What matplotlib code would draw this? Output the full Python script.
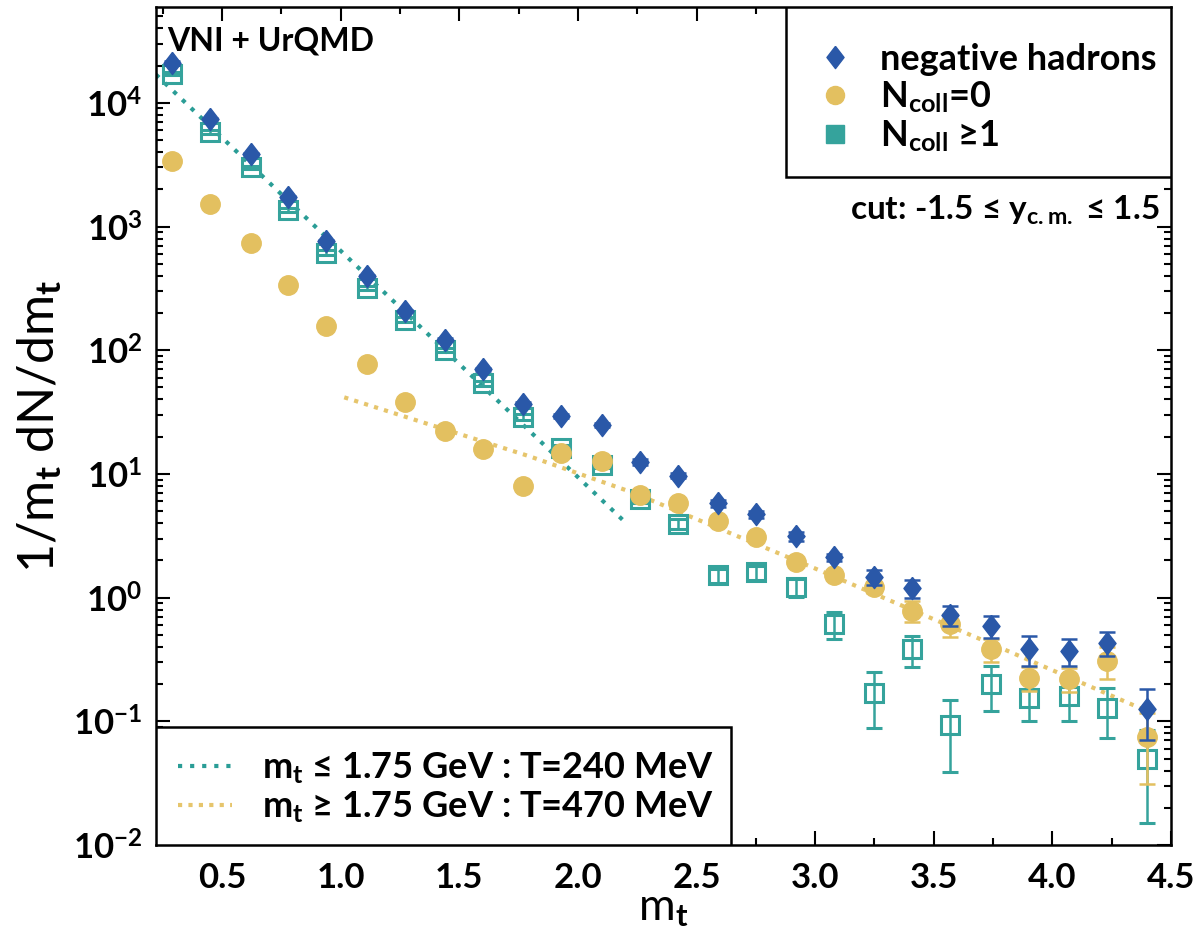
import numpy as np
import matplotlib
matplotlib.use('Agg')
import matplotlib.pyplot as plt
from matplotlib.patches import Rectangle
from matplotlib.lines import Line2D
from matplotlib.ticker import MultipleLocator, LogLocator, FixedLocator, FuncFormatter, NullFormatter

plt.rcParams['font.family'] = ['Lato', 'DejaVu Sans']
plt.rcParams['font.weight'] = 'bold'
plt.rcParams['mathtext.fontset'] = 'custom'
plt.rcParams['mathtext.rm'] = 'Lato:bold'
plt.rcParams['mathtext.bf'] = 'Lato:bold'
plt.rcParams['mathtext.it'] = 'Lato:bold'
plt.rcParams['mathtext.default'] = 'bf'

# m_t bins (GeV)
mt = [0.29, 0.45, 0.62, 0.78, 0.94, 1.11, 1.27, 1.44, 1.60, 1.77, 1.93, 2.10, 2.26,
      2.42, 2.59, 2.75, 2.92, 3.08, 3.25, 3.41, 3.57, 3.74, 3.90, 4.07, 4.23, 4.40]

# negative hadrons
neg_had = [2.1e4, 7.4e3, 3.85e3, 1.72e3, 765, 398, 207, 122, 70, 37, 29.5, 25, 12.5,
           9.7, 5.8, 4.7, 3.12, 2.12, 1.46, 1.19, 0.725, 0.593, 0.386, 0.372, 0.432, 0.126]
neg_had_err = [600, 200, 100, 40, 20, 10, 5, 3, 2, 1, 1, 1, 0.6,
               0.5, 0.4, 0.3, 0.25, 0.15, 0.2, 0.2, 0.13, 0.12, 0.105, 0.09, 0.095, 0.055]

# N_coll = 0
ncoll0 = [3.37e3, 1.52e3, 741, 334, 157, 77, 38, 22.2, 15.8, 7.96, 14.7, 12.7, 6.7,
          5.8, 4.15, 3.08, 1.93, 1.51, 1.21, 0.785, 0.612, 0.384, 0.225, 0.221, 0.309, 0.074]
ncoll0_err = [100, 50, 25, 10, 5, 3, 1.5, 1, 0.8, 0.5, 0.6, 0.5, 0.35,
              0.3, 0.25, 0.2, 0.15, 0.12, 0.12, 0.15, 0.13, 0.08, 0.05, 0.05, 0.09, 0.043]

# N_coll >= 1
ncoll1 = [1.72e4, 5.78e3, 3.0e3, 1.36e3, 615, 318, 177, 100, 54, 29, 16.1, 11.9, 6.3,
          3.95, 1.51, 1.6, 1.21, 0.612, 0.169, 0.384, 0.094, 0.202, 0.155, 0.161, 0.129, 0.05]
ncoll1_err = [500, 200, 100, 50, 25, 12, 7, 4, 2.5, 1.5, 1, 0.8, 0.5,
              0.35, 0.2, 0.2, 0.2, 0.15, 0.08, 0.11, 0.055, 0.08, 0.055, 0.06, 0.056, 0.035]

# exponential fits
fit_low_mt = [0.2215, 2.205]
fit_low_val = [1.69e4, 3.97]
fit_high_mt = [1.015, 1.795, 2.23, 3.0, 3.78, 4.445]
fit_high_val = [41.6, 13.9, 7.08, 1.72, 0.394, 0.111]

y_decades = [1e-2, 1e-1, 1e0, 1e1, 1e2, 1e3, 1e4]

blue = '#2a58a8'
gold = '#e3c060'
teal = '#35a39c'
teal_line = '#2a9d96'
gold_line = '#e6c56c'

diamond = [(0, 1), (0.77, 0), (0, -1), (-0.77, 0), (0, 1)]

fig = plt.figure(figsize=(12, 9.33), dpi=100)
ax = fig.add_axes([0.13, 0.0943, 0.8458, 0.8977])
ax.set_yscale('log')

ax.plot(fit_low_mt, fit_low_val, color=teal_line, lw=3, ls=(0, (1, 1.9)), zorder=2)
ax.plot(fit_high_mt, fit_high_val, color=gold_line, lw=3, ls=(0, (1, 1.5)), zorder=2)

ax.errorbar(mt, ncoll1, yerr=ncoll1_err, fmt='s', ms=13, mfc='none', mec=teal, mew=2.2,
            ecolor=teal, elinewidth=1.8, capsize=6, capthick=1.8, zorder=3)
ax.errorbar(mt, ncoll0, yerr=ncoll0_err, fmt='o', ms=14, mfc=gold, mec=gold,
            ecolor=gold, elinewidth=1.8, capsize=6, capthick=1.8, zorder=4)
ax.errorbar(mt, neg_had, yerr=neg_had_err, fmt='none', ecolor=blue, elinewidth=1.8,
            capsize=6, capthick=1.8, zorder=5)
ax.plot(mt, neg_had, ls='none', marker=diamond, ms=16, mfc=blue, mec=blue, zorder=5)

ax.set_xlim(0.2215, 4.5)
ax.set_ylim(1e-2, 5.9e4)

ax.xaxis.set_major_locator(MultipleLocator(0.5))
ax.xaxis.set_minor_locator(MultipleLocator(0.25))
ax.yaxis.set_major_locator(FixedLocator(y_decades))
ax.yaxis.set_minor_locator(LogLocator(base=10, subs=np.arange(2, 10), numticks=20))
ax.yaxis.set_major_formatter(FuncFormatter(lambda v, p: r'$10^{%d}$' % round(np.log10(v))))
ax.yaxis.set_minor_formatter(NullFormatter())
ax.xaxis.set_major_formatter(FuncFormatter(lambda v, p: '%.1f' % v))
ax.tick_params(which='both', direction='in', top=True, right=True, width=1.5, labelsize=25)
ax.tick_params(which='major', length=10)
ax.tick_params(which='minor', length=5)
ax.tick_params(axis='x', pad=12)
ax.tick_params(axis='y', pad=10)
for s in ax.spines.values():
    s.set_linewidth(1.8)

ax.set_xlabel(r'm$_t$', fontsize=32, labelpad=-4)
ax.set_ylabel(r'1/m$_t$ dN/dm$_t$', fontsize=36, labelpad=6)

ax.text(0.011, 0.96, 'VNI + UrQMD', transform=ax.transAxes, fontsize=23, va='center')
ax.text(0.989, 0.758, r'cut: -1.5 ≤ y$_{c.m.}$ ≤ 1.5', transform=ax.transAxes,
        fontsize=24, va='center', ha='right')

# legend boxes
ax.add_patch(Rectangle((0.6207, 0.797), 0.3793, 0.203, transform=ax.transAxes,
                       facecolor='white', edgecolor='black', lw=1.8, zorder=6))
ax.add_patch(Rectangle((0.0, 0.0), 0.5665, 0.1408, transform=ax.transAxes,
                       facecolor='white', edgecolor='black', lw=1.8, zorder=6))

h1 = [Line2D([], [], ls='none', marker=diamond, ms=16, mfc=blue, mec=blue),
      Line2D([], [], ls='none', marker='o', ms=13, mfc=gold, mec=gold),
      Line2D([], [], ls='none', marker='s', ms=13, mfc=teal, mec=teal)]
leg1 = ax.legend(h1, ['negative hadrons', r'N$_{coll}$=0', r'N$_{coll}$ ≥1'],
                 loc='upper left', bbox_to_anchor=(0.651, 0.958), frameon=False,
                 fontsize=26, handlelength=1.0, handletextpad=0.75, labelspacing=0.1,
                 borderpad=0, borderaxespad=0)
leg1.set_zorder(7)
ax.add_artist(leg1)

h2 = [Line2D([], [], color=teal_line, lw=3, ls=(0, (1, 1.9))),
      Line2D([], [], color=gold_line, lw=3, ls=(0, (1, 1.5)))]
leg2 = ax.legend(h2, [r'm$_t$ ≤ 1.75 GeV : T=240 MeV', r'm$_t$ ≥ 1.75 GeV : T=470 MeV'],
                 loc='upper left', bbox_to_anchor=(0.0217, 0.113), frameon=False,
                 fontsize=26, handlelength=1.5, handletextpad=0.83, labelspacing=0.1,
                 borderpad=0, borderaxespad=0)
leg2.set_zorder(7)

fig.savefig('out.png', dpi=100)
